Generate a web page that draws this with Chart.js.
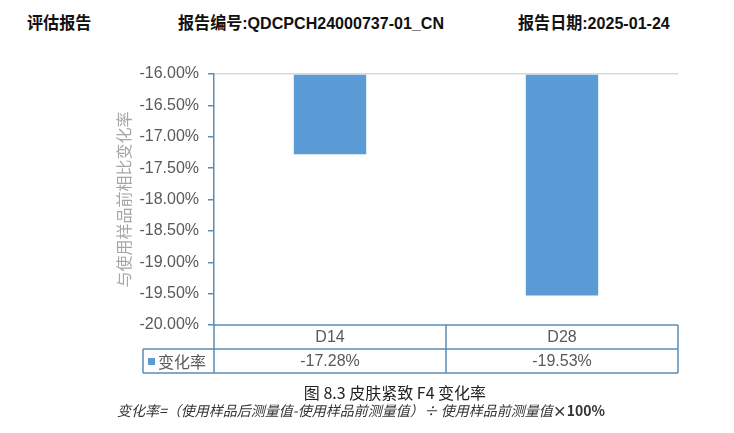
<!DOCTYPE html>
<html>
<head>
<meta charset="utf-8">
<script src="https://cdn.jsdelivr.net/npm/chart.js@4/dist/chart.umd.min.js"></script>
<style>
  html, body { margin: 0; padding: 0; background: #fff; }
  body { width: 734px; height: 433px; position: relative; overflow: hidden;
    font-family: "Liberation Sans", "Noto Sans CJK SC", sans-serif; }
  #chart { position: absolute; left: 0; top: 0; }
  .hd { position: absolute; top: 9px; font-size: 17px; font-weight: bold; color: #111; white-space: nowrap;
    transform: scaleX(0.945); transform-origin: left center; }
  #cap { position: absolute; top: 380px; left: 0; width: 790px; text-align: center; font-size: 16px; color: #222;
    font-family: "Noto Sans CJK SC", sans-serif; }
  #formula { position: absolute; top: 400px; left: 117px; font-size: 14px; font-style: italic; color: #333; white-space: nowrap;
    font-family: "Noto Sans CJK SC", sans-serif; }
</style>
</head>
<body>
<div class="hd" style="left:27px">评估报告</div>
<div class="hd" style="left:178px">报告编号:QDCPCH24000737-01_CN</div>
<div class="hd" style="left:518px">报告日期:2025-01-24</div>
<canvas id="chart" width="734" height="433"></canvas>
<div id="cap">图 8.3 皮肤紧致 F4 变化率</div>
<div id="formula">变化率=（使用样品后测量值-使用样品前测量值）÷ 使用样品前测量值<b style="font-style:normal">×100%</b></div>
<script>
// 数据
const categorias = ['D14', 'D28'];
const variacao = [-17.28, -19.53];
const serieNome = '变化率';
const eixoMin = -20, eixoMax = -16, passo = 0.5;
const tituloY = '与使用样品前相比变化率';

const COR_BARRA = '#5b9bd5';
const COR_LINHA = '#5a8db5';
const COR_TEXTO = '#595959';

const PAD_ESQ = 111, EIXO_X = 214;
const ALT_LINHA = 24, LEG_LARG = 71;

// tabela de dados abaixo do grafico
const tabelaPlugin = {
  id: 'tabela',
  afterDraw(chart) {
    const { ctx, chartArea: a, scales: { x } } = chart;
    const y0 = a.bottom, y1 = y0 + ALT_LINHA, y2 = y1 + ALT_LINHA;
    const passoX = (a.right - a.left) / categorias.length;
    ctx.save();
    ctx.strokeStyle = COR_LINHA;
    ctx.lineWidth = 1.5;
    ctx.beginPath();
    ctx.moveTo(a.left, y0); ctx.lineTo(a.right, y0);
    ctx.moveTo(a.left - LEG_LARG, y1); ctx.lineTo(a.right, y1);
    ctx.moveTo(a.left - LEG_LARG, y2); ctx.lineTo(a.right, y2);
    ctx.moveTo(a.left - LEG_LARG, y1); ctx.lineTo(a.left - LEG_LARG, y2);
    for (let i = 0; i <= categorias.length; i++) {
      const xx = a.left + passoX * i;
      ctx.moveTo(xx, y0); ctx.lineTo(xx, y2);
    }
    ctx.stroke();

    ctx.fillStyle = COR_TEXTO;
    ctx.font = '16px "Liberation Sans", "Noto Sans CJK SC", sans-serif';
    ctx.textAlign = 'center';
    ctx.textBaseline = 'middle';
    categorias.forEach((c, i) => {
      const cx = x.getPixelForValue(i);
      ctx.fillText(c, cx, (y0 + y1) / 2 + 1);
      ctx.fillText(variacao[i].toFixed(2) + '%', cx, (y1 + y2) / 2 + 1);
    });
    // legenda
    ctx.fillStyle = COR_BARRA;
    ctx.fillRect(a.left - LEG_LARG + 5, (y1 + y2) / 2 - 3, 7, 7);
    ctx.fillStyle = COR_TEXTO;
    ctx.textAlign = 'left';
    ctx.font = '16px "Noto Sans CJK SC", sans-serif';
    ctx.fillText(serieNome, a.left - LEG_LARG + 15, (y1 + y2) / 2 + 1);
    ctx.restore();
  }
};

new Chart(document.getElementById('chart'), {
  type: 'bar',
  data: {
    labels: categorias,
    datasets: [{
      label: serieNome, data: variacao, base: eixoMax,
      backgroundColor: COR_BARRA, borderWidth: 0,
      barPercentage: 0.312, categoryPercentage: 1
    }]
  },
  options: {
    responsive: false, animation: false,
    layout: { padding: { left: PAD_ESQ, top: 74, right: 56, bottom: 108 } },
    plugins: { legend: { display: false }, tooltip: { enabled: false } },
    scales: {
      x: { display: false },
      y: {
        min: eixoMin, max: eixoMax,
        afterFit: s => { s.width = EIXO_X - PAD_ESQ; },
        ticks: {
          stepSize: passo, padding: 9, color: COR_TEXTO,
          font: { family: '"Liberation Sans", sans-serif', size: 16 },
          callback: v => v.toFixed(2) + '%'
        },
        grid: {
          tickLength: 6, lineWidth: 1.5,
          color: c => (c.tick && c.tick.value === eixoMax) ? '#d9d9d9' : 'rgba(0,0,0,0)',
          tickColor: COR_LINHA
        },
        border: { color: COR_LINHA, width: 1.5 },
        title: {
          display: true, text: tituloY, color: '#a6a6a6',
          font: { family: '"Noto Sans CJK SC", sans-serif', size: 16 },
          padding: { top: 3, bottom: 0 }
        }
      }
    }
  },
  plugins: [tabelaPlugin]
});
</script>
</body>
</html>
